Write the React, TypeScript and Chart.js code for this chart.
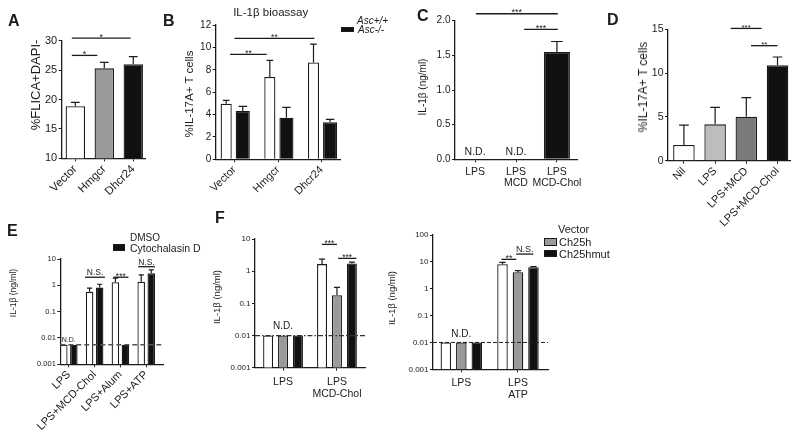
import React, { useEffect, useRef } from 'react';
import { Chart, registerables } from 'chart.js';

Chart.register(...registerables);

const FONT = '"Liberation Sans", Arial, Helvetica, sans-serif';
const INK = '#1b1b1b';
const W = 800;
const H = 436;
const YW = 40;

// ---------------- DATA ----------------
// Panel A : %FLICA+DAPI-
const aLabels = ['Vector', 'Hmgcr', 'Dhcr24'];
const aFlica = [18.85, 25.3, 26.0];
const aFlicaSem = [0.65, 1.0, 1.3];
const aYTicks = [10, 15, 20, 25, 30];
const aSig = [
  { from: -0.12, to: 0.76, at: 27.5, label: '*' },
  { from: -0.12, to: 1.91, at: 30.45, label: '*' },
];

// Panel B : IL-1β bioassay, %IL-17A+ T cells
const bLabels = ['Vector', 'Hmgcr', 'Dhcr24'];
const bAscWT = [4.96, 7.35, 8.66];
const bAscWTSem = [0.31, 1.49, 1.64];
const bAscKO = [4.31, 3.71, 3.3];
const bAscKOSem = [0.42, 0.93, 0.27];
const bYTicks = [0, 2, 4, 6, 8, 10, 12];
const bSig = [
  { from: -0.1, to: 0.74, at: 9.38, label: '**' },
  { from: 0.0, to: 1.83, at: 10.8, label: '**' },
];

// Panel C : IL-1β (ng/ml)
const cLabels = [['LPS'], ['LPS', 'MCD'], ['LPS', 'MCD-Chol']];
const cIL1b = [0, 0, 1.55];
const cIL1bSem = [0, 0, 0.15];
const cYTicks = [0, 0.5, 1, 1.5, 2];
const cSig = [
  { from: 0.02, to: 2.02, at: 2.1, label: '***' },
  { from: 1.2, to: 2.02, at: 1.876, label: '***' },
];
const cND = [
  { at: 0, y: 0.1, label: 'N.D.' },
  { at: 1, y: 0.1, label: 'N.D.' },
];

// Panel D : %IL-17A+ T cells
const dLabels = ['Nil', 'LPS', 'LPS+MCD', 'LPS+MCD-Chol'];
const dIL17 = [1.79, 4.15, 5.02, 10.89];
const dIL17Sem = [2.28, 1.94, 2.17, 0.95];
const dYTicks = [0, 5, 10, 15];
const dSig = [
  { from: 1.5, to: 2.49, at: 15.1, label: '***' },
  { from: 2.15, to: 3.0, at: 13.13, label: '**' },
];

// Panel E : IL-1β (ng/ml), DMSO vs Cytochalasin D
const eLabels = ['LPS', 'LPS+MCD-Chol', 'LPS+Alum', 'LPS+ATP'];
const eDMSO = [0.0055, 0.57, 1.31, 1.38];
const eDMSOSem = [0, 0.21, 0.55, 1.12];
const eCytoD = [0.0055, 0.82, 0.0055, 2.88];
const eCytoDSem = [0, 0.28, 0, 0.98];
const eLimit = 0.0055;
const eYTicks = [0.001, 0.01, 0.1, 1, 10];
const eSig = [
  { from: 0.63, to: 1.4, at: 2.03, label: 'N.S.' },
  { from: 1.72, to: 2.31, at: 2.03, label: '***' },
  { from: 2.69, to: 3.34, at: 5.1, label: 'N.S.' },
];
const eND = [{ at: 0, y: 0.0085, label: 'N.D.' }];

// Panel F (left) : LPS / LPS MCD-Chol
const fLLabels = ['LPS', ['LPS', 'MCD-Chol']];
const fLVector = [0.01, 1.66];
const fLVectorSem = [0, 0.72];
const fLCh25h = [0.01, 0.18];
const fLCh25hSem = [0, 0.135];
const fLCh25hmut = [0.01, 1.74];
const fLCh25hmutSem = [0, 0.17];
const fLYTicks = [0.001, 0.01, 0.1, 1, 10];
const fLSig = [
  { from: 0.72, to: 1.0, at: 6.8, label: '***' },
  { from: 1.02, to: 1.36, at: 2.5, label: '***' },
];
const fLND = [{ at: 0, y: 0.02, label: 'N.D.' }];

// Panel F (right) : LPS / LPS ATP
const fRLabels = ['LPS', ['LPS', 'ATP']];
const fRVector = [0.01, 8.1];
const fRVectorSem = [0, 1.5];
const fRCh25h = [0.01, 4.1];
const fRCh25hSem = [0, 0.6];
const fRCh25hmut = [0.01, 6.3];
const fRCh25hmutSem = [0, 0.3];
const fRYTicks = [0.001, 0.01, 0.1, 1, 10, 100];
const fRSig = [
  { from: 0.71, to: 0.97, at: 12.4, label: '**' },
  { from: 0.97, to: 1.27, at: 19.5, label: 'N.S.' },
];
const fRND = [{ at: 0, y: 0.0205, label: 'N.D.' }];
const fLimit = 0.01;

// ---------------- CHART PLUMBING ----------------
type DS = { label: string; values: number[]; sem: number[]; bg: string | string[]; barPct: number };
type Sig = { from: number; to: number; at: number; label: string };
type ND = { at: number; y: number; label: string };
type Spec = {
  area: [number, number, number, number];
  xh: number;
  xRange: [number, number];
  labels: (string | string[])[];
  datasets: DS[];
  catPct: number;
  yType: 'linear' | 'logarithmic';
  yTicks: number[];
  yFmt: (v: number) => string;
  yFont: number;
  xFont: number;
  xLine: number;
  xPad: number;
  rotation: number;
  sig: Sig[];
  sigFont: number;
  nd: ND[];
  ndFont: number;
  capFrac: number;
  limit?: { value: number; dash: number[]; color: string; width: number };
};

const annotPlugin = {
  id: 'annot',
  afterDatasetsDraw(chart: any, _a: any, o: any) {
    const { ctx, chartArea } = chart;
    const xs = chart.scales.x;
    const ys = chart.scales.y;
    ctx.save();
    if (o.limit) {
      const y = ys.getPixelForValue(o.limit.value);
      ctx.setLineDash(o.limit.dash);
      ctx.strokeStyle = o.limit.color;
      ctx.lineWidth = o.limit.width;
      ctx.beginPath();
      ctx.moveTo(chartArea.left, y);
      ctx.lineTo(chartArea.right, y);
      ctx.stroke();
      ctx.setLineDash([]);
    }
    ctx.strokeStyle = INK;
    ctx.lineWidth = 1.2;
    chart.data.datasets.forEach((ds: any, di: number) => {
      const meta = chart.getDatasetMeta(di);
      meta.data.forEach((bar: any, i: number) => {
        const sem = ds.sem ? ds.sem[i] : 0;
        if (!sem) return;
        const v = ds.data[i].y;
        const y0 = ys.getPixelForValue(v);
        const y1 = ys.getPixelForValue(v + sem);
        const half = (bar.width * o.capFrac) / 2;
        ctx.beginPath();
        ctx.moveTo(bar.x, y0);
        ctx.lineTo(bar.x, y1);
        ctx.moveTo(bar.x - half, y1);
        ctx.lineTo(bar.x + half, y1);
        ctx.stroke();
      });
    });
    ctx.fillStyle = INK;
    ctx.textAlign = 'center';
    ctx.lineWidth = 1.3;
    (o.sig as Sig[]).forEach((s) => {
      const x1 = xs.getPixelForValue(s.from);
      const x2 = xs.getPixelForValue(s.to);
      const y = ys.getPixelForValue(s.at);
      ctx.beginPath();
      ctx.moveTo(x1, y);
      ctx.lineTo(x2, y);
      ctx.stroke();
      ctx.font = `${o.sigFont}px ${FONT}`;
      ctx.textBaseline = 'alphabetic';
      const star = /^\*+$/.test(s.label);
      ctx.fillText(s.label, (x1 + x2) / 2, star ? y + 1.5 : y - 2);
    });
    (o.nd as ND[]).forEach((n) => {
      ctx.font = `${o.ndFont}px ${FONT}`;
      ctx.textBaseline = 'middle';
      ctx.fillText(n.label, xs.getPixelForValue(n.at), ys.getPixelForValue(n.y));
    });
    ctx.restore();
  },
};

function buildConfig(p: Spec): any {
  const [l, t, r, b] = p.area;
  const grid = {
    display: true,
    drawOnChartArea: false,
    drawTicks: true,
    tickLength: 3,
    offset: false,
    color: INK,
    lineWidth: 1,
  };
  const border = { display: true, color: INK, width: 1.3 };
  return {
    type: 'bar',
    data: {
      datasets: p.datasets.map((d) => ({
        label: d.label,
        data: d.values.map((v, i) => ({ x: i, y: v })),
        sem: d.sem,
        backgroundColor: d.bg,
        borderColor: INK,
        borderWidth: 1.3,
        categoryPercentage: p.catPct,
        barPercentage: d.barPct,
      })),
    },
    options: {
      animation: false,
      responsive: false,
      events: [],
      layout: { padding: { left: l - YW, top: t, right: W - r, bottom: H - b - p.xh } },
      plugins: {
        legend: { display: false },
        tooltip: { enabled: false },
        annot: {
          sig: p.sig,
          nd: p.nd,
          sigFont: p.sigFont,
          ndFont: p.ndFont,
          capFrac: p.capFrac,
          limit: p.limit,
        },
      },
      scales: {
        x: {
          type: 'linear',
          offset: false,
          min: p.xRange[0],
          max: p.xRange[1],
          afterBuildTicks: (s: any) => {
            s.ticks = p.labels.map((_, i) => ({ value: i }));
          },
          afterFit: (s: any) => {
            s.height = p.xh;
          },
          ticks: {
            autoSkip: false,
            minRotation: p.rotation,
            maxRotation: p.rotation,
            padding: p.xPad,
            color: INK,
            font: { family: FONT, size: p.xFont, lineHeight: p.xLine },
            callback: (_v: any, i: number) => p.labels[i],
          },
          grid,
          border,
        },
        y: {
          type: p.yType,
          beginAtZero: false,
          min: p.yTicks[0],
          max: p.yTicks[p.yTicks.length - 1],
          afterBuildTicks: (s: any) => {
            s.ticks = p.yTicks.map((v) => ({ value: v }));
          },
          afterFit: (s: any) => {
            s.width = YW;
          },
          ticks: {
            autoSkip: false,
            padding: 1.5,
            color: INK,
            font: { family: FONT, size: p.yFont },
            callback: (v: number) => p.yFmt(v),
          },
          grid,
          border,
        },
      },
    },
    plugins: [annotPlugin],
  };
}

const WHITE = '#ffffff';
const BLACK = '#111111';
const GRAY = '#9a9a9a';

const specs: Spec[] = [
  {
    area: [61.7, 40.7, 146, 158.3],
    xh: 70,
    xRange: [-0.47, 2.44],
    labels: aLabels,
    datasets: [{ label: '%FLICA+DAPI-', values: aFlica, sem: aFlicaSem, bg: [WHITE, GRAY, BLACK], barPct: 0.67 }],
    catPct: 1,
    yType: 'linear',
    yTicks: aYTicks,
    yFmt: (v) => String(v),
    yFont: 11,
    xFont: 11.5,
    xLine: 1.2,
    xPad: 1,
    rotation: 45,
    sig: aSig,
    sigFont: 9,
    nd: [],
    ndFont: 10,
    capFrac: 0.45,
  },
  {
    area: [215.7, 25, 341, 159.3],
    xh: 70,
    xRange: [-0.43, 2.44],
    labels: bLabels,
    datasets: [
      { label: 'Asc+/+', values: bAscWT, sem: bAscWTSem, bg: WHITE, barPct: 0.67 },
      { label: 'Asc-/-', values: bAscKO, sem: bAscKOSem, bg: BLACK, barPct: 0.85 },
    ],
    catPct: 0.76,
    yType: 'linear',
    yTicks: bYTicks,
    yFmt: (v) => String(v),
    yFont: 10,
    xFont: 11,
    xLine: 1.2,
    xPad: 1,
    rotation: 45,
    sig: bSig,
    sigFont: 8.5,
    nd: [],
    ndFont: 10,
    capFrac: 0.6,
  },
  {
    area: [455, 20.7, 577, 159.3],
    xh: 40,
    xRange: [-0.49, 2.49],
    labels: cLabels,
    datasets: [{ label: 'IL-1β', values: cIL1b, sem: cIL1bSem, bg: BLACK, barPct: 0.635 }],
    catPct: 1,
    yType: 'linear',
    yTicks: cYTicks,
    yFmt: (v) => v.toFixed(1),
    yFont: 10,
    xFont: 10.5,
    xLine: 0.98,
    xPad: 5,
    rotation: 0,
    sig: cSig,
    sigFont: 9,
    nd: cND,
    ndFont: 10.5,
    capFrac: 0.45,
  },
  {
    area: [668, 29.3, 790, 160.7],
    xh: 80,
    xRange: [-0.51, 3.4],
    labels: dLabels,
    datasets: [
      { label: '%IL-17A+', values: dIL17, sem: dIL17Sem, bg: [WHITE, '#bdbdbd', '#7a7a7a', BLACK], barPct: 0.69 },
    ],
    catPct: 1,
    yType: 'linear',
    yTicks: dYTicks,
    yFmt: (v) => String(v),
    yFont: 10.5,
    xFont: 11,
    xLine: 1.2,
    xPad: 1,
    rotation: 45,
    sig: dSig,
    sigFont: 8,
    nd: [],
    ndFont: 10,
    capFrac: 0.45,
  },
  {
    area: [60.3, 259, 163, 364.3],
    xh: 70,
    xRange: [-0.33, 3.65],
    labels: eLabels,
    datasets: [
      { label: 'DMSO', values: eDMSO, sem: eDMSOSem, bg: WHITE, barPct: 0.75 },
      { label: 'Cytochalasin D', values: eCytoD, sem: eCytoDSem, bg: BLACK, barPct: 0.75 },
    ],
    catPct: 0.78,
    yType: 'logarithmic',
    yTicks: eYTicks,
    yFmt: (v) => String(v),
    yFont: 7.5,
    xFont: 11,
    xLine: 1.2,
    xPad: 1,
    rotation: 45,
    sig: eSig,
    sigFont: 8.5,
    nd: eND,
    ndFont: 7,
    capFrac: 0.7,
    limit: { value: eLimit, dash: [5, 3], color: '#555555', width: 1.6 },
  },
  {
    area: [255, 239, 365, 367.7],
    xh: 40,
    xRange: [-0.52, 1.52],
    labels: fLLabels,
    datasets: [
      { label: 'Vector', values: fLVector, sem: fLVectorSem, bg: WHITE, barPct: 0.67 },
      { label: 'Ch25h', values: fLCh25h, sem: fLCh25hSem, bg: GRAY, barPct: 0.67 },
      { label: 'Ch25hmut', values: fLCh25hmut, sem: fLCh25hmutSem, bg: BLACK, barPct: 0.67 },
    ],
    catPct: 0.83,
    yType: 'logarithmic',
    yTicks: fLYTicks,
    yFmt: (v) => String(v),
    yFont: 8,
    xFont: 10.5,
    xLine: 1.1,
    xPad: 6,
    rotation: 0,
    sig: fLSig,
    sigFont: 8.5,
    nd: fLND,
    ndFont: 10,
    capFrac: 0.6,
    limit: { value: fLimit, dash: [5, 2, 1.5, 2], color: '#333333', width: 1.2 },
  },
  {
    area: [433, 235, 548, 369.3],
    xh: 40,
    xRange: [-0.5, 1.53],
    labels: fRLabels,
    datasets: [
      { label: 'Vector', values: fRVector, sem: fRVectorSem, bg: WHITE, barPct: 0.68 },
      { label: 'Ch25h', values: fRCh25h, sem: fRCh25hSem, bg: GRAY, barPct: 0.68 },
      { label: 'Ch25hmut', values: fRCh25hmut, sem: fRCh25hmutSem, bg: BLACK, barPct: 0.68 },
    ],
    catPct: 0.82,
    yType: 'logarithmic',
    yTicks: fRYTicks,
    yFmt: (v) => String(v),
    yFont: 8,
    xFont: 10.5,
    xLine: 1.1,
    xPad: 5,
    rotation: 0,
    sig: fRSig,
    sigFont: 9,
    nd: fRND,
    ndFont: 10,
    capFrac: 0.6,
    limit: { value: fLimit, dash: [4, 2], color: '#222222', width: 1 },
  },
];

function BarPanel({ spec }: { spec: Spec }) {
  const ref = useRef<HTMLCanvasElement>(null);
  useEffect(() => {
    if (!ref.current) return;
    const chart = new Chart(ref.current, buildConfig(spec));
    return () => chart.destroy();
  }, [spec]);
  return (
    <canvas
      ref={ref}
      width={W}
      height={H}
      style={{ position: 'absolute', left: 0, top: 0, width: W, height: H }}
    />
  );
}

// ---------------- TEXT OVERLAYS (layout) ----------------
const panelLetters = [
  { text: 'A', x: 8, y: 13 },
  { text: 'B', x: 163, y: 13 },
  { text: 'C', x: 417, y: 7.5 },
  { text: 'D', x: 607, y: 11.5 },
  { text: 'E', x: 7, y: 223 },
  { text: 'F', x: 215, y: 210 },
];
const yTitles = [
  { text: '%FLICA+DAPI-', x: 35, y: 85, size: 13 },
  { text: '%IL-17A+ T cells', x: 190, y: 94, size: 11.5 },
  { text: 'IL-1β (ng/ml)', x: 423, y: 87, size: 10 },
  { text: '%IL-17A+ T cells', x: 643, y: 87, size: 12 },
  { text: 'IL-1β (ng/ml)', x: 13, y: 293, size: 8.5 },
  { text: 'IL-1β (ng/ml)', x: 217, y: 297, size: 9.5 },
  { text: 'IL-1β (ng/ml)', x: 392, y: 298, size: 9.5 },
];
const legendTexts = [
  { text: 'IL-1β bioassay', x: 270.7, y: 13.3, size: 11.5, center: true, italic: false },
  { text: 'Asc+/+', x: 357, y: 20.5, size: 10, center: false, italic: true },
  { text: 'Asc-/-', x: 358, y: 29.5, size: 10, center: false, italic: true },
  { text: 'DMSO', x: 130, y: 237.5, size: 10, center: false, italic: false },
  { text: 'Cytochalasin D', x: 130, y: 247.7, size: 10.5, center: false, italic: false },
  { text: 'Vector', x: 558, y: 229, size: 11, center: false, italic: false },
  { text: 'Ch25h', x: 559, y: 241.5, size: 11, center: false, italic: false },
  { text: 'Ch25hmut', x: 559, y: 253.7, size: 11, center: false, italic: false },
];
const legendBoxes = [
  { x: 341, y: 26.7, w: 13, h: 5.8, color: BLACK },
  { x: 113, y: 244.3, w: 12, h: 6.4, color: BLACK },
  { x: 544, y: 237.7, w: 12.7, h: 8, color: GRAY },
  { x: 544, y: 250, w: 12.7, h: 7.3, color: BLACK },
];

export default function App() {
  return (
    <div
      style={{
        position: 'absolute',
        left: 0,
        top: 0,
        width: W,
        height: H,
        background: '#ffffff',
        fontFamily: FONT,
        color: INK,
        overflow: 'hidden',
      }}
    >
      {specs.map((s, i) => (
        <BarPanel key={i} spec={s} />
      ))}
      {panelLetters.map((p) => (
        <div
          key={p.text}
          style={{
            position: 'absolute',
            left: p.x,
            top: p.y,
            fontSize: 16,
            fontWeight: 'bold',
            lineHeight: 1,
          }}
        >
          {p.text}
        </div>
      ))}
      {yTitles.map((t, i) => (
        <div
          key={'yt' + i}
          style={{
            position: 'absolute',
            left: t.x,
            top: t.y,
            fontSize: t.size,
            lineHeight: 1,
            whiteSpace: 'nowrap',
            transform: 'translate(-50%, -50%) rotate(-90deg)',
          }}
        >
          {t.text}
        </div>
      ))}
      {legendTexts.map((t, i) => (
        <div
          key={'lt' + i}
          style={{
            position: 'absolute',
            left: t.x,
            top: t.y,
            fontSize: t.size,
            lineHeight: 1,
            whiteSpace: 'nowrap',
            fontStyle: t.italic ? 'italic' : 'normal',
            transform: t.center ? 'translate(-50%, -50%)' : 'translateY(-50%)',
          }}
        >
          {t.text}
        </div>
      ))}
      {legendBoxes.map((b, i) => (
        <div
          key={'lb' + i}
          style={{
            position: 'absolute',
            left: b.x,
            top: b.y,
            width: b.w,
            height: b.h,
            background: b.color,
            boxSizing: 'border-box',
            border: `1px solid ${INK}`,
          }}
        />
      ))}
    </div>
  );
}
